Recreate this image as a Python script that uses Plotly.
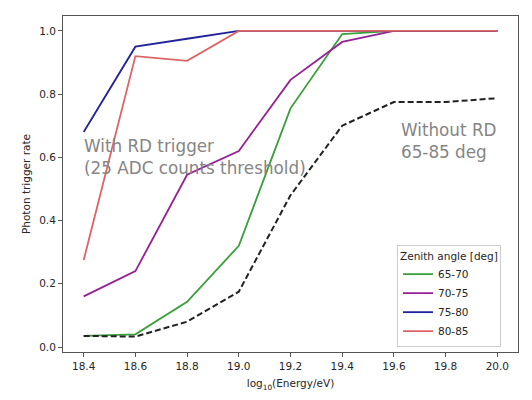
import plotly.graph_objects as go

energy = [18.4, 18.6, 18.8, 19.0, 19.2, 19.4, 19.6, 19.8, 20.0]
rate_65_70 = [0.035, 0.040, 0.143, 0.320, 0.755, 0.990, 1.0, 1.0, 1.0]
rate_70_75 = [0.160, 0.240, 0.545, 0.620, 0.845, 0.965, 1.0, 1.0, 1.0]
rate_75_80 = [0.680, 0.950, 0.975, 1.0, 1.0, 1.0, 1.0, 1.0, 1.0]
rate_80_85 = [0.275, 0.920, 0.905, 1.0, 1.0, 1.0, 1.0, 1.0, 1.0]
rate_no_rd = [0.035, 0.033, 0.080, 0.175, 0.480, 0.700, 0.775, 0.775, 0.787]

series = [
    ("65-70", rate_65_70, "#3a9e3a"),
    ("70-75", rate_70_75, "#962096"),
    ("75-80", rate_75_80, "#22229a"),
    ("80-85", rate_80_85, "#dc6464"),
]

FONT = "DejaVu Sans"
fig = go.Figure()
for name, vals, col in series:
    fig.add_trace(go.Scatter(x=energy, y=vals, mode="lines", name=name,
                             line=dict(color=col, width=1.8)))
fig.add_trace(go.Scatter(x=energy, y=rate_no_rd, mode="lines", showlegend=False,
                         line=dict(color="#222222", width=2, dash="6px,3px")))

# page has an 8px body margin; figure coords = page coords - 8
OFF = 8
W, H = 532, 400
L_page, R_page, T_page, B_page = 63, 518, 16, 352
L = L_page - OFF
T = T_page - OFF
Rm = W - (R_page - OFF)
Bm = H - (B_page - OFF)
pw = R_page - L_page
ph = B_page - T_page

def px(x):
    return (x - L_page) / pw

def py(y):
    return (B_page - y) / ph

annos = [
    ("With RD trigger<br>(25 ADC counts threshold)", 82, 157),
    ("Without RD<br>65-85 deg", 399, 141),
]
for txt, x, y in annos:
    fig.add_annotation(text=txt, x=px(x), y=py(y), xref="paper", yref="paper",
                       xanchor="left", yanchor="middle", align="left", showarrow=False,
                       font=dict(family=FONT, size=16.8, color="#858585"))

axis_common = dict(showline=True, mirror=True, linecolor="#555555", linewidth=1,
                   ticks="outside", ticklen=4, tickcolor="#555555", showgrid=False,
                   zeroline=False, tickfont=dict(family=FONT, size=10.5, color="#262626"),
                   tickformat=".1f")

fig.update_layout(
    width=W, height=H,
    margin=dict(l=L, r=Rm, t=T, b=Bm),
    paper_bgcolor="white", plot_bgcolor="white",
    font=dict(family=FONT, size=10.5, color="#262626"),
    xaxis=dict(range=[18.32, 20.08], tickvals=energy, **axis_common,
               title=dict(text="log<sub>10</sub>(Energy/eV)", standoff=9,
                          font=dict(family=FONT, size=10.5))),
    yaxis=dict(range=[-0.0158, 1.047], tickvals=[0, 0.2, 0.4, 0.6, 0.8, 1.0], **axis_common,
               title=dict(text="Photon trigger rate", standoff=6,
                          font=dict(family=FONT, size=10.5))),
    legend=dict(x=px(397), y=py(347), xanchor="left", yanchor="bottom",
                bgcolor="rgba(255,255,255,0.85)", bordercolor="#cccccc", borderwidth=1,
                title=dict(text="Zenith angle [deg]", font=dict(family=FONT, size=10.5)),
                font=dict(family=FONT, size=10.5), itemwidth=30, tracegroupgap=0),
    showlegend=True,
)

fig.write_html("out.html")
